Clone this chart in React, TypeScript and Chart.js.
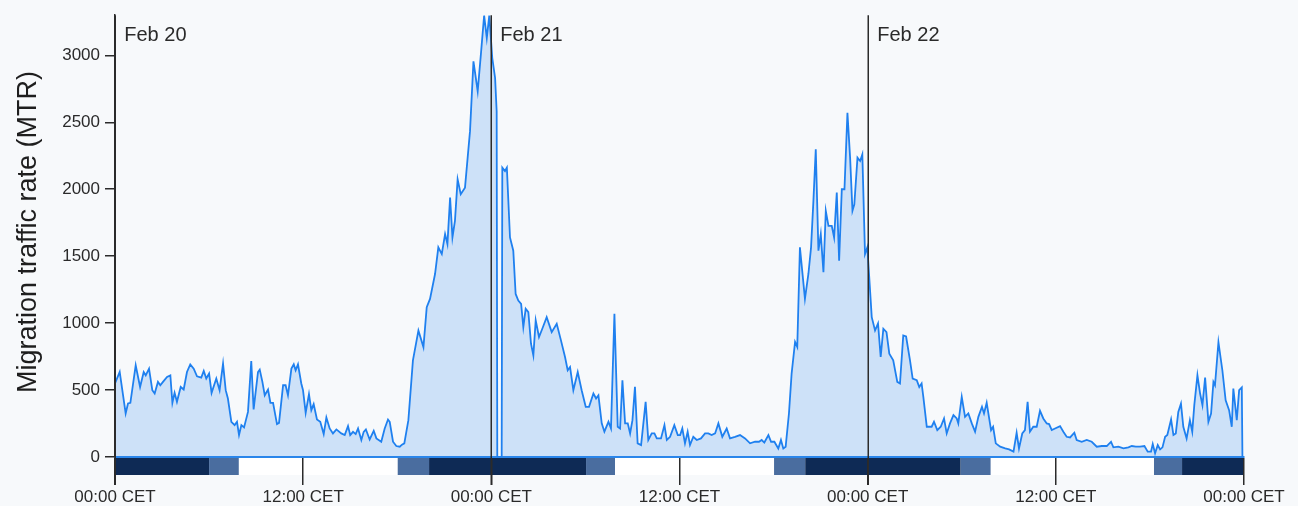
import { useEffect, useRef } from 'react';
import { Chart, registerables } from 'chart.js';

Chart.register(...registerables);

// [hour since Feb 20 00:00 CET, MTR]
const feb20: [number, number][] = [
  [0, 549], [0.3, 635], [0.68, 325], [0.83, 400], [0.98, 405], [1.32, 685], [1.6, 523], [1.83, 635], [1.96, 610],
  [2.17, 660], [2.38, 499], [2.53, 474], [2.74, 561], [2.89, 536], [3.06, 561], [3.32, 598], [3.53, 610], [3.66, 405],
  [3.8, 479], [3.95, 412], [4.19, 523], [4.38, 504], [4.59, 635], [4.8, 692], [5.02, 660], [5.23, 603], [5.5, 593],
  [5.66, 643], [5.82, 586], [6.0, 623], [6.16, 479], [6.46, 586], [6.67, 499], [6.89, 697], [7.06, 499], [7.2, 437],
  [7.42, 263], [7.63, 238], [7.78, 263], [7.91, 164], [8.06, 238], [8.23, 221], [8.48, 337], [8.69, 717], [8.84, 355],
  [9.12, 635], [9.23, 653], [9.4, 561], [9.55, 461], [9.76, 504], [9.91, 405], [10.08, 405], [10.33, 246], [10.46, 255],
  [10.72, 536], [10.88, 536], [11.03, 461], [11.25, 660], [11.4, 692], [11.52, 648], [11.67, 692], [11.88, 549],
  [11.99, 499], [12.16, 330], [12.37, 469], [12.52, 350], [12.67, 395], [12.88, 280], [13.09, 263], [13.31, 171],
  [13.48, 295], [13.69, 213], [13.9, 176], [14.12, 206], [14.43, 176], [14.65, 164], [14.86, 231], [15.0, 164],
  [15.18, 188], [15.35, 171], [15.5, 213], [15.71, 127], [15.86, 188], [16.0, 206], [16.24, 131], [16.5, 196],
  [16.67, 139], [16.98, 114], [17.2, 213], [17.41, 280], [17.52, 263], [17.73, 114], [17.94, 82], [18.16, 77],
  [18.3, 92], [18.45, 102], [18.71, 275], [19.0, 722], [19.35, 945], [19.67, 821], [19.88, 1119], [20.09, 1181],
  [20.41, 1367], [20.62, 1566], [20.84, 1516], [21.05, 1665], [21.2, 1591], [21.37, 1938], [21.52, 1640], [21.68, 1764],
  [21.85, 2074], [22.05, 1963], [22.32, 2012], [22.49, 2236], [22.64, 2434], [22.86, 2955], [23.13, 2732], [23.35, 3030],
  [23.54, 3298], [23.71, 3129], [23.87, 3298],
];

const feb21: [number, number][] = [
  [24.06, 2980], [24.24, 2831], [24.34, 2583], [24.38, 0], [24.66, 0], [24.7, 2161], [24.87, 2136], [24.99, 2161],
  [25.19, 1640], [25.4, 1541], [25.55, 1218], [25.72, 1169], [25.9, 1144], [26.04, 970], [26.19, 1107], [26.36, 1082],
  [26.53, 846], [26.68, 759], [26.83, 1020], [27.04, 896], [27.25, 958], [27.53, 1045], [27.85, 933], [28.17, 995],
  [28.44, 871], [28.7, 747], [28.87, 648], [29.02, 672], [29.23, 499], [29.51, 635], [29.76, 499], [30.02, 375],
  [30.23, 375], [30.51, 474], [30.68, 437], [30.83, 461], [31.04, 251], [31.21, 189], [31.47, 263], [31.63, 213],
  [31.85, 1069], [32.06, 226], [32.21, 213], [32.36, 573], [32.53, 251], [32.7, 251], [32.85, 176], [33.0, 275],
  [33.16, 524], [33.33, 102], [33.55, 89], [33.84, 412], [34.01, 127], [34.23, 176], [34.4, 176], [34.55, 139],
  [34.82, 139], [35.04, 238], [35.19, 127], [35.4, 151], [35.67, 238], [35.89, 164], [36.04, 164], [36.18, 213],
  [36.35, 102], [36.52, 188], [36.67, 89], [36.88, 151], [37.1, 127], [37.37, 139], [37.63, 176], [37.84, 176],
  [38.05, 164], [38.27, 176], [38.48, 251], [38.73, 151], [39.01, 213], [39.22, 139], [39.54, 151], [39.86, 164],
  [40.18, 139], [40.5, 102], [40.82, 114], [41.07, 114], [41.24, 127], [41.41, 108], [41.67, 164], [41.84, 114],
  [42.05, 114], [42.3, 64], [42.47, 127], [42.62, 64], [42.77, 77], [42.98, 325], [43.15, 623], [43.37, 859],
  [43.51, 822], [43.68, 1566], [44.0, 1181], [44.22, 1367], [44.39, 1566], [44.54, 1913], [44.69, 2298], [44.86, 1541],
  [45.01, 1665], [45.18, 1380], [45.33, 1839], [45.5, 1727], [45.71, 1727], [45.86, 1640], [46.03, 1975], [46.18, 1467],
  [46.35, 2000], [46.52, 2000], [46.71, 2571], [46.88, 2236], [47.03, 1839], [47.15, 1888], [47.35, 2236], [47.52, 2211],
  [47.66, 2260], [47.83, 1516], [47.98, 1566],
];

const feb22: [number, number][] = [
  [48.02, 1491], [48.26, 1044], [48.47, 945], [48.66, 997], [48.83, 747], [49.0, 958], [49.2, 933], [49.38, 772],
  [49.63, 722], [49.89, 561], [50.06, 549], [50.27, 908], [50.45, 900], [50.7, 722], [50.87, 586], [51.13, 573],
  [51.29, 523], [51.44, 549], [51.55, 449], [51.77, 226], [52.08, 226], [52.23, 263], [52.44, 201], [52.66, 226],
  [52.87, 288], [53.04, 176], [53.25, 251], [53.47, 313], [53.68, 288], [53.78, 251], [54.0, 449], [54.21, 300],
  [54.42, 325], [54.64, 251], [54.85, 189], [55.06, 300], [55.29, 375], [55.42, 325], [55.59, 405], [55.87, 201],
  [56.0, 226], [56.17, 102], [56.45, 77], [56.77, 64], [57.02, 57], [57.3, 40], [57.5, 181], [57.65, 64], [57.86, 176],
  [58.03, 201], [58.2, 412], [58.35, 189], [58.56, 226], [58.78, 226], [58.99, 345], [59.2, 288], [59.42, 251],
  [59.57, 246], [59.74, 201], [59.95, 213], [60.27, 231], [60.48, 189], [60.69, 151], [60.91, 146], [61.18, 181],
  [61.33, 127], [61.65, 114], [61.97, 127], [62.29, 114], [62.61, 77], [62.93, 82], [63.25, 82], [63.52, 114],
  [63.67, 72], [63.99, 77], [64.31, 64], [64.63, 72], [64.84, 82], [65.1, 77], [65.37, 77], [65.65, 82], [65.86, 40],
  [66.07, 40], [66.18, 97], [66.33, 28], [66.5, 89], [66.65, 57], [66.8, 72], [66.97, 151], [67.11, 164], [67.35, 280],
  [67.5, 164], [67.65, 176], [67.81, 337], [67.98, 399], [68.13, 226], [68.34, 139], [68.55, 275], [68.7, 189],
  [68.83, 387], [69.03, 610], [69.2, 474], [69.35, 387], [69.52, 593], [69.73, 263], [69.9, 325], [70.05, 561],
  [70.15, 536], [70.37, 858], [70.62, 648], [70.83, 424], [71.05, 350], [71.22, 226], [71.32, 511], [71.54, 275],
  [71.69, 499], [71.86, 519], [71.9, 0],
];

const yTickValues = [0, 500, 1000, 1500, 2000, 2500, 3000];
const xTickHours = [0, 12, 24, 36, 48, 60, 72];
const xTickLabels = ['00:00 CET', '12:00 CET', '00:00 CET', '12:00 CET', '00:00 CET', '12:00 CET', '00:00 CET'];
const dayStartHours = [0, 24, 48];
const dayLabels = ['Feb 20', 'Feb 21', 'Feb 22'];
const bandEdges = [0, 6, 7.9, 18.03, 20.03, 30.04, 31.89, 42.03, 44.02, 53.93, 55.85, 66.26, 68.05, 72];
const bandKinds = ['night', 'twilight', 'day', 'twilight', 'night', 'twilight', 'day', 'twilight', 'night', 'twilight', 'day', 'twilight', 'night'];
const yTitle = 'Migration traffic rate (MTR)';

const FONT = "'Liberation Sans', Arial, Helvetica, sans-serif";
const TEXT = '#2a2a2a';
const bandColors: Record<string, string> = { night: '#0e2a55', twilight: '#4a6d9f', day: '#ffffff' };

const overlay = {
  id: 'overlay',
  beforeDraw(chart: any) {
    const { ctx, chartArea, scales } = chart;
    const x = scales.x;
    const top = chartArea.bottom + 1;
    ctx.save();
    for (let i = 0; i < bandKinds.length; i++) {
      const x0 = x.getPixelForValue(bandEdges[i]);
      const x1 = x.getPixelForValue(bandEdges[i + 1]);
      ctx.fillStyle = bandColors[bandKinds[i]];
      ctx.fillRect(x0, top, x1 - x0, 17);
    }
    ctx.restore();
  },
  afterDatasetsDraw(chart: any) {
    const { ctx, chartArea, scales } = chart;
    const x = scales.x;
    ctx.save();
    ctx.strokeStyle = '#2b2b2b';
    ctx.lineWidth = 1.5;
    dayStartHours.forEach((h, i) => {
      const px = Math.round(x.getPixelForValue(h)) + 0.25;
      ctx.beginPath();
      ctx.moveTo(px, chartArea.top);
      ctx.lineTo(px, chartArea.bottom + 28);
      ctx.stroke();
      ctx.fillStyle = TEXT;
      ctx.font = `20px ${FONT}`;
      ctx.textAlign = 'left';
      ctx.textBaseline = 'alphabetic';
      ctx.fillText(dayLabels[i], px + 9, chartArea.top + 26);
    });
    ctx.translate(29, 232);
    ctx.rotate(-Math.PI / 2);
    ctx.fillStyle = '#1e1e1e';
    ctx.font = `27px ${FONT}`;
    ctx.textAlign = 'center';
    ctx.textBaseline = 'middle';
    ctx.fillText(yTitle, 0, 0);
    ctx.restore();
  },
};

export default function App() {
  const ref = useRef<HTMLCanvasElement | null>(null);
  useEffect(() => {
    if (!ref.current) return;
    const points = [...feb20, ...feb21, ...feb22].map(([h, v]) => ({ x: h, y: v }));
    const chart = new Chart(ref.current, {
      type: 'line',
      data: {
        datasets: [
          {
            data: points,
            borderColor: '#1f80ef',
            backgroundColor: 'rgba(40,130,240,0.2)',
            borderWidth: 1.8,
            pointRadius: 0,
            tension: 0,
            fill: 'origin',
          },
        ],
      },
      options: {
        animation: false,
        responsive: false,
        devicePixelRatio: 1,
        layout: { padding: { top: 14, right: 54, left: 0, bottom: 0 } },
        plugins: { legend: { display: false }, tooltip: { enabled: false } },
        scales: {
          x: {
            type: 'linear',
            min: 0,
            max: 72,
            afterBuildTicks: (s: any) => {
              s.ticks = xTickHours.map((v) => ({ value: v }));
            },
            afterFit: (s: any) => {
              s.height = 49;
            },
            ticks: {
              autoSkip: false,
              maxRotation: 0,
              padding: 2,
              color: TEXT,
              font: { family: FONT, size: 17 },
              callback: (_v: any, i: number) => xTickLabels[i],
            },
            grid: { drawOnChartArea: false, drawTicks: true, tickLength: 28, color: '#2b2b2b', lineWidth: 1.5 },
            border: { display: true, color: '#2a86ea', width: 2 },
          },
          y: {
            type: 'linear',
            min: 0,
            max: 3300,
            afterBuildTicks: (s: any) => {
              s.ticks = yTickValues.map((v) => ({ value: v }));
            },
            afterFit: (s: any) => {
              s.width = 115;
            },
            ticks: {
              color: TEXT,
              padding: 5,
              font: { family: FONT, size: 17 },
              callback: (v: any) => String(v),
            },
            grid: { drawOnChartArea: false, drawTicks: true, tickLength: 10, color: '#2b2b2b', lineWidth: 1.5 },
            border: { display: true, color: '#2b2b2b', width: 1.5 },
          },
        },
      },
      plugins: [overlay],
    });
    return () => chart.destroy();
  }, []);
  return (
    <div style={{ position: 'fixed', left: 0, top: 0, width: 1298, height: 506, background: '#f7f9fb' }}>
      <canvas ref={ref} width={1298} height={506} style={{ display: 'block' }} />
    </div>
  );
}
